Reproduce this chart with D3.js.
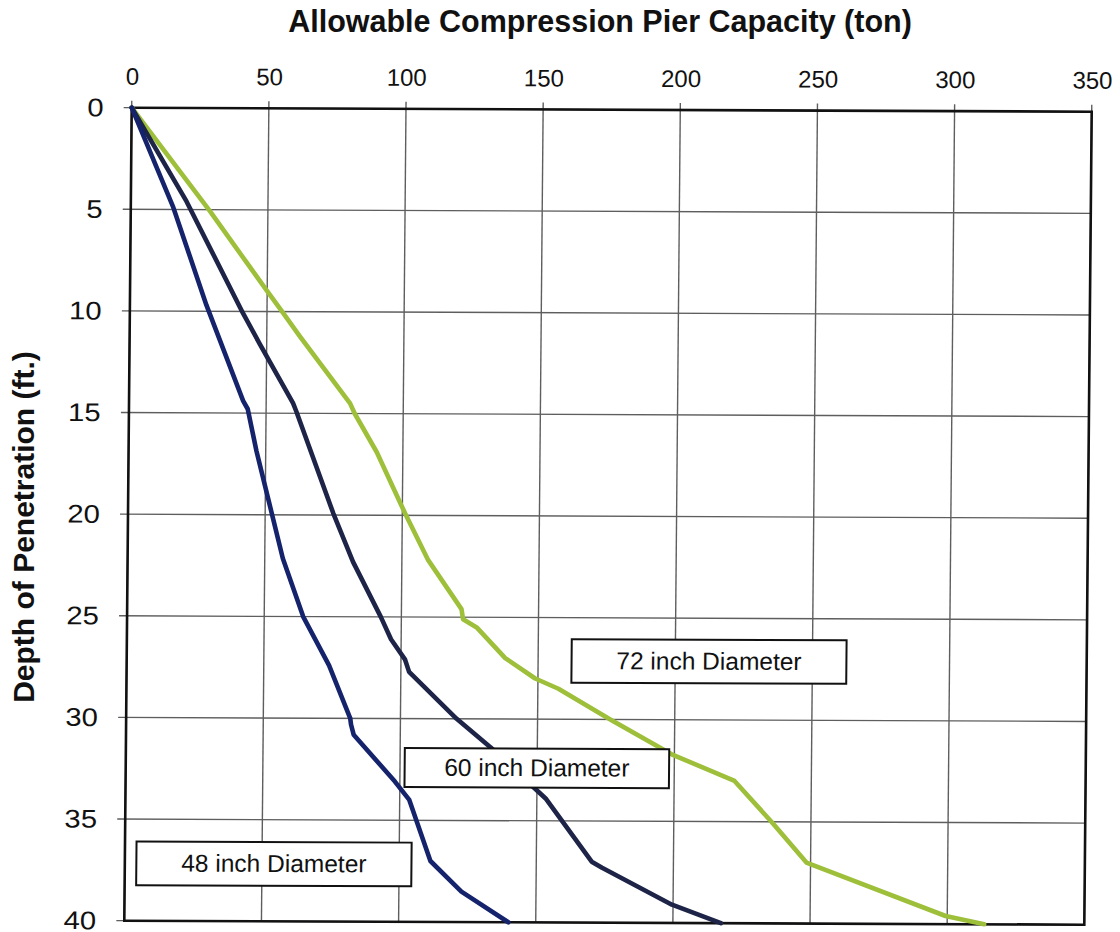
<!DOCTYPE html>
<html>
<head>
<meta charset="utf-8">
<script src="https://cdn.jsdelivr.net/npm/d3@7"></script>
<style>
  html, body { margin: 0; padding: 0; background: #fff; }
  svg { display: block; font-family: "Liberation Sans", Arial, sans-serif; }
</style>
</head>
<body>
<svg id="chart" width="1120" height="932"></svg>
<script>
// ---- data ----
const capacityTicks = [0, 50, 100, 150, 200, 250, 300, 350];
const depthTicks = [0, 5, 10, 15, 20, 25, 30, 35, 40];

const depth72 = [0, 5.1, 9.0, 9.9, 11.2, 14.5, 15.0, 16.9, 19.9, 22.2, 24.6, 25.1, 25.5, 27.0, 28.0, 28.5, 30.0, 31.7, 33.0, 35.0, 37.0, 39.6, 40];
const cap72   = [0, 29, 50, 55, 62, 80.6, 82.3, 90.5, 101, 109.6, 121.9, 122.5, 127.5, 138, 149, 157.5, 176.5, 199, 222, 235.6, 248.5, 299.4, 313.5];

const depth60 = [0, 4.6, 10.1, 11.6, 14.5, 14.9, 19.9, 22.3, 25.0, 26.1, 27.1, 27.7, 30.0, 31.4, 33.9, 37.0, 37.3, 39.1, 40];
const cap60   = [0, 20.3, 41.3, 47.5, 59.8, 61, 74.8, 82.2, 92.5, 96.3, 101.5, 103, 120.5, 133, 153.2, 170.2, 174, 199.6, 217.5];

const depth48 = [0, 4.9, 9.7, 14.4, 14.8, 16.85, 19.5, 22.15, 25.0, 27.4, 30.0, 30.3, 30.8, 33.1, 34.0, 37.0, 38.5, 40];
const cap48   = [0, 15.5, 27.9, 41.6, 43.3, 46.6, 51.6, 56.6, 64.2, 73.8, 81.7, 82, 83, 98.2, 103.5, 111.4, 122.8, 140];

const seriesNames = ["72 inch Diameter", "60 inch Diameter", "48 inch Diameter"];
// label boxes in data units: [capLeft, capRight, depthTop, depthBottom]
const labelCapLeft   = [162.2, 101.7, 4.2];
const labelCapRight  = [262.4, 198.1, 104.5];
const labelDepthTop  = [26.06, 31.45, 36.1];
const labelDepthBot  = [28.2, 33.37, 38.25];

const xTitle = "Allowable Compression Pier Capacity (ton)";
const yTitle = "Depth of Penetration (ft.)";

// ---- layout ----
const W = 960, H = 813;
const svg = d3.select("#chart");
svg.append("rect").attr("width", 1120).attr("height", 932).attr("fill", "#fff");

const x = d3.scaleLinear().domain([0, 350]).range([0, W]);
const y = d3.scaleLinear().domain([0, 40]).range([0, H]);

// slight scan skew of the original
const g = svg.append("g").attr("transform", "matrix(1,0.00417,-0.0091,1,131.7,107.7)");

// grid
g.append("g").selectAll("line").data(capacityTicks).join("line")
  .attr("x1", d => x(d)).attr("x2", d => x(d))
  .attr("y1", -7).attr("y2", H)
  .attr("stroke", "#5e5e5e").attr("stroke-width", 1.4);
g.append("g").selectAll("line").data(depthTicks).join("line")
  .attr("y1", d => y(d)).attr("y2", d => y(d))
  .attr("x1", -8).attr("x2", W)
  .attr("stroke", "#5e5e5e").attr("stroke-width", 1.4);

// axes labels via d3 axes
const xAxis = g.append("g")
  .call(d3.axisTop(x).tickValues(capacityTicks).tickSize(0).tickPadding(23).tickFormat(d3.format("d")));
xAxis.select(".domain").remove();
xAxis.selectAll("text").attr("font-size", 24).attr("fill", "#111")
  .attr("font-family", "'Liberation Sans', Arial, sans-serif");

const yAxis = g.append("g")
  .call(d3.axisLeft(y).tickValues(depthTicks).tickSize(0).tickFormat(d3.format("d")));
yAxis.select(".domain").remove();
yAxis.selectAll("text").attr("font-size", 25.5).attr("fill", "#111")
  .attr("x", -24.5).attr("transform", "scale(1.15,1)")
  .attr("font-family", "'Liberation Sans', Arial, sans-serif");

// plot border
g.append("rect").attr("x", 0).attr("y", 0).attr("width", W).attr("height", H)
  .attr("fill", "none").attr("stroke", "#111").attr("stroke-width", 2.6);

// lines
const series = [
  { d: depth72, c: cap72, color: "#9dbf3a" },
  { d: depth60, c: cap60, color: "#1d2448" },
  { d: depth48, c: cap48, color: "#14236b" }
];
const line = d3.line().x(p => x(p[0])).y(p => y(p[1])).curve(d3.curveLinear);
g.append("g").selectAll("path").data(series).join("path")
  .attr("d", s => line(s.c.map((v, i) => [v, s.d[i]])))
  .attr("fill", "none").attr("stroke", s => s.color)
  .attr("stroke-width", 4.6).attr("stroke-linejoin", "round").attr("stroke-linecap", "round");

// label boxes
const labels = g.append("g").selectAll("g").data(seriesNames).join("g");
labels.append("rect")
  .attr("x", (d, i) => x(labelCapLeft[i]))
  .attr("y", (d, i) => y(labelDepthTop[i]))
  .attr("width", (d, i) => x(labelCapRight[i]) - x(labelCapLeft[i]))
  .attr("height", (d, i) => y(labelDepthBot[i]) - y(labelDepthTop[i]))
  .attr("fill", "#fff").attr("stroke", "#111").attr("stroke-width", 2);
labels.append("text")
  .attr("x", (d, i) => (x(labelCapLeft[i]) + x(labelCapRight[i])) / 2)
  .attr("y", (d, i) => (y(labelDepthTop[i]) + y(labelDepthBot[i])) / 2)
  .attr("dy", "0.33em")
  .attr("text-anchor", "middle").attr("font-size", 24.5).attr("fill", "#111")
  .text(d => d);

// titles
svg.append("text").attr("x", 600).attr("y", 32).attr("text-anchor", "middle")
  .attr("font-size", 30.5).attr("font-weight", "bold").attr("fill", "#111")
  .text(xTitle);
svg.append("text").attr("transform", "translate(33.5,527) rotate(-90)")
  .attr("text-anchor", "middle")
  .attr("font-size", 30).attr("font-weight", "bold").attr("fill", "#111")
  .text(yTitle);
</script>
</body>
</html>
